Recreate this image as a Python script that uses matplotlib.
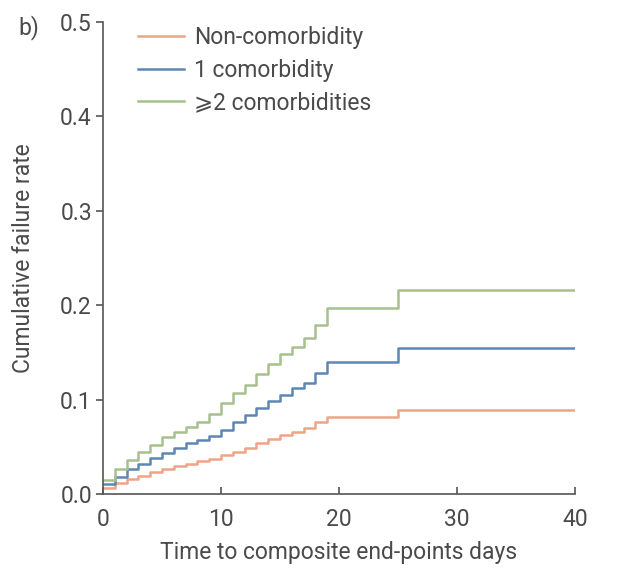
import matplotlib
matplotlib.use('Agg')
import matplotlib.pyplot as plt

# step times (days) and cumulative failure rate per group
days = [0, 1, 2, 3, 4, 5, 6, 7, 8, 9, 10, 11, 12, 13, 14, 15, 16, 17, 18, 19, 25, 40]
non_comorb = [0.006, 0.012, 0.016, 0.019, 0.023, 0.027, 0.030, 0.032, 0.035, 0.037,
              0.041, 0.045, 0.049, 0.054, 0.058, 0.062, 0.066, 0.070, 0.076, 0.082,
              0.089, 0.089]
one_comorb = [0.011, 0.018, 0.027, 0.032, 0.038, 0.043, 0.049, 0.054, 0.057, 0.061,
              0.068, 0.076, 0.084, 0.091, 0.098, 0.105, 0.112, 0.118, 0.128, 0.140,
              0.155, 0.155]
two_plus = [0.015, 0.027, 0.036, 0.044, 0.052, 0.060, 0.066, 0.071, 0.076, 0.085,
            0.096, 0.107, 0.115, 0.127, 0.138, 0.148, 0.156, 0.165, 0.179, 0.197,
            0.216, 0.216]

labels = ['Non-comorbidity', '1 comorbidity', '\u2a7e2 comorbidities']
colors = ['#eea486', '#5f86b3', '#a6c08e']
xticks = [0, 10, 20, 30, 40]
yticks = [0.0, 0.1, 0.2, 0.3, 0.4, 0.5]

plt.rcParams['font.family'] = ['Roboto', 'DejaVu Sans']
txt = '#4a4a4a'
fs = 16.5

fig = plt.figure(figsize=(6.21, 5.87), dpi=100)
ax = fig.add_axes([103 / 621, 93 / 587, 472 / 621, 472 / 587])

for ys, c, lab in zip([non_comorb, one_comorb, two_plus], colors, labels):
    ax.step(days, ys, where='post', color=c, lw=1.8, label=lab)

ax.set_xlim(0, 40)
ax.set_ylim(0, 0.5)
ax.set_xticks(xticks)
ax.set_yticks(yticks)
ax.set_xticklabels([str(t) for t in xticks])
ax.set_yticklabels(['%.1f' % t for t in yticks])

for s in ['top', 'right']:
    ax.spines[s].set_visible(False)
for s in ['left', 'bottom']:
    ax.spines[s].set_color('#555555')
    ax.spines[s].set_linewidth(1.2)

ax.tick_params(axis='x', direction='in', length=5, width=1.2, color='#555555',
               labelsize=fs, labelcolor=txt, pad=10)
ax.tick_params(axis='y', direction='out', length=5, width=1.2, color='#555555',
               labelsize=fs, labelcolor=txt, pad=3)

ax.set_xlabel('Time to composite end-points days', fontsize=fs, color=txt, labelpad=7)
ax.set_ylabel('Cumulative failure rate', fontsize=fs, color=txt, labelpad=18)

leg = ax.legend(loc='upper left', bbox_to_anchor=(0.074, 0.991), frameon=False,
                fontsize=fs, handlelength=2.0, handletextpad=0.45, labelspacing=0.42,
                borderpad=0, borderaxespad=0)
for t in leg.get_texts():
    t.set_color(txt)

fig.text(18 / 621, 1 - 28 / 587, 'b)', fontsize=fs, color=txt, va='center')

fig.savefig('out.png', dpi=100, facecolor='white')
